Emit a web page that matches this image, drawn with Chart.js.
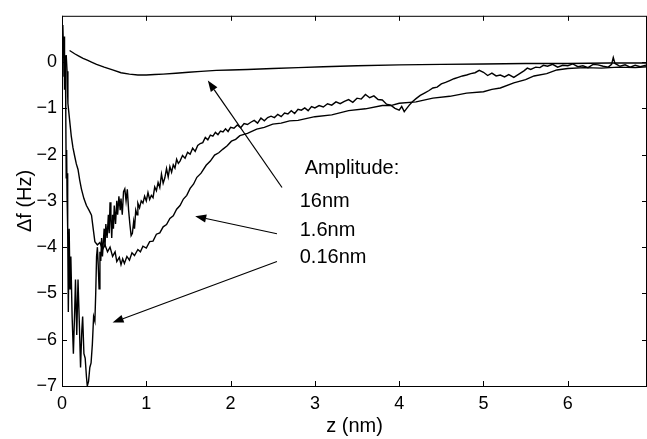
<!DOCTYPE html>
<html>
<head>
<meta charset="utf-8">
<script src="https://cdn.jsdelivr.net/npm/chart.js@4.4.0/dist/chart.umd.min.js"></script>
<style>
  body { margin: 0; background: #fff; }
  #wrap { width: 647px; height: 439px; }
</style>
</head>
<body>
<div id="wrap"><canvas id="chart" width="647" height="439"></canvas></div>
<script>
// tick labels
const xTicks = [0, 1, 2, 3, 4, 5, 6];
const yTicks = [-7, -6, -5, -4, -3, -2, -1, 0];

// 16nm amplitude
const z16nm = [0.09, 0.15, 0.2, 0.25, 0.3, 0.35, 0.41, 0.5, 0.6, 0.7, 0.8, 0.9, 1.0, 1.1, 1.2, 1.35, 1.5, 1.65, 1.83, 2.0,
  2.2, 2.5, 2.8, 3.1, 3.5, 4.0, 4.5, 5.0, 5.5, 6.0, 6.5, 6.94];
const df16nm = [0.25, 0.18, 0.13, 0.08, 0.04, 0.0, -0.05, -0.11, -0.17, -0.23, -0.26, -0.28, -0.28, -0.27, -0.26, -0.24, -0.22, -0.2, -0.18, -0.17,
  -0.16, -0.14, -0.12, -0.1, -0.08, -0.06, -0.05, -0.04, -0.03, -0.03, -0.02, -0.02];

// 1.6nm amplitude
const z1p6nm = [0.05, 0.06, 0.07, 0.09, 0.11, 0.13, 0.15, 0.17, 0.19, 0.21, 0.23, 0.26, 0.29, 0.32, 0.35, 0.37, 0.39, 0.42, 0.45, 0.48,
  0.51, 0.54, 0.57, 0.6, 0.63, 0.65, 0.68, 0.7, 0.72, 0.74, 0.77, 0.8, 0.83, 0.86, 0.9, 0.93, 0.96, 1.0, 1.04, 1.08,
  1.12, 1.16, 1.2, 1.24, 1.28, 1.32, 1.36, 1.4, 1.44, 1.48, 1.52, 1.56, 1.6, 1.65, 1.71, 1.76, 1.81, 1.86, 1.91, 1.96,
  2.01, 2.06, 2.11, 2.2, 2.31, 2.4, 2.5, 2.6, 2.7, 2.8, 3.0, 3.2, 3.4, 3.6, 3.8, 3.9, 4.0, 4.2, 4.4, 4.6,
  4.8, 5.0, 5.1, 5.2, 5.36, 5.5, 5.6, 5.75, 5.87, 6.0, 6.2, 6.4, 6.6, 6.8, 6.94];
const df1p6nm = [0.15, -0.2, -0.89, -1.25, -1.6, -1.85, -2.03, -2.2, -2.32, -2.55, -2.74, -2.95, -3.1, -3.2, -3.31, -3.6, -3.88, -3.95, -3.9, -4.05,
  -3.95, -4.1, -4.0, -4.2, -4.1, -4.31, -4.22, -4.38, -4.25, -4.35, -4.2, -4.28, -4.12, -4.18, -4.05, -4.1, -3.98, -4.02, -3.88, -3.87,
  -3.72, -3.69, -3.56, -3.51, -3.38, -3.32, -3.18, -3.1, -2.96, -2.88, -2.73, -2.64, -2.49, -2.4, -2.23, -2.14, -2.01, -1.96, -1.88, -1.81,
  -1.71, -1.67, -1.59, -1.54, -1.45, -1.41, -1.34, -1.32, -1.27, -1.26, -1.18, -1.14, -1.05, -1.01, -0.94, -0.94, -0.89, -0.86, -0.78, -0.74,
  -0.67, -0.64, -0.59, -0.56, -0.45, -0.38, -0.3, -0.25, -0.17, -0.14, -0.12, -0.13, -0.11, -0.12, -0.1];

// 0.16nm amplitude
const z0p16nm = [0.0, 0.01, 0.02, 0.025, 0.03, 0.04, 0.045, 0.05, 0.055, 0.06, 0.065, 0.07, 0.075, 0.085, 0.095, 0.105, 0.12, 0.135, 0.15, 0.16,
  0.175, 0.19, 0.205, 0.22, 0.235, 0.245, 0.26, 0.275, 0.29, 0.3, 0.315, 0.33, 0.345, 0.36, 0.375, 0.39, 0.4, 0.41, 0.42, 0.43,
  0.44, 0.45, 0.46, 0.47, 0.48, 0.49, 0.5, 0.51, 0.52, 0.535, 0.55, 0.56, 0.57, 0.58, 0.59, 0.6, 0.61, 0.62, 0.635, 0.65,
  0.66, 0.675, 0.69, 0.7, 0.715, 0.73, 0.745, 0.76, 0.775, 0.79, 0.805, 0.82, 0.835, 0.85, 0.86, 0.875, 0.89, 0.9, 0.92, 0.94,
  0.96, 0.98, 1.0, 1.02, 1.04, 1.06, 1.08, 1.1, 1.12, 1.14, 1.16, 1.18, 1.2, 1.22, 1.24, 1.26, 1.28, 1.3, 1.32, 1.34,
  1.36, 1.38, 1.4, 1.43, 1.46, 1.49, 1.52, 1.55, 1.58, 1.61, 1.64, 1.67, 1.7, 1.73, 1.76, 1.79, 1.82, 1.85, 1.88, 1.91,
  1.94, 1.97, 2.0, 2.04, 2.08, 2.12, 2.16, 2.2, 2.24, 2.28, 2.32, 2.36, 2.4, 2.44, 2.48, 2.52, 2.56, 2.6, 2.64, 2.68,
  2.72, 2.76, 2.8, 2.84, 2.88, 2.92, 2.96, 3.0, 3.05, 3.1, 3.15, 3.2, 3.25, 3.3, 3.35, 3.4, 3.45, 3.5, 3.55, 3.6,
  3.65, 3.7, 3.75, 3.8, 3.85, 3.9, 3.95, 4.0, 4.03, 4.06, 4.09, 4.12, 4.16, 4.2, 4.25, 4.3, 4.35, 4.4, 4.45, 4.5,
  4.55, 4.6, 4.65, 4.7, 4.75, 4.8, 4.85, 4.9, 4.95, 5.0, 5.05, 5.1, 5.15, 5.2, 5.25, 5.3, 5.36, 5.42, 5.48, 5.52,
  5.56, 5.62, 5.67, 5.71, 5.76, 5.82, 5.88, 5.94, 6.0, 6.06, 6.12, 6.18, 6.24, 6.3, 6.36, 6.42, 6.48, 6.52, 6.54, 6.56,
  6.62, 6.68, 6.74, 6.8, 6.86, 6.94];
const df0p16nm = [-0.3, 0.8, 0.1, 0.55, -0.6, 0.15, -1.2, -2.5, -1.9, -2.9, -2.4, -3.6, -5.4, -3.6, -4.9, -4.2, -5.5, -6.3, -5.4, -4.7,
  -5.9, -4.7, -5.6, -6.6, -5.8, -5.5, -6.3, -6.4, -6.8, -7.0, -6.9, -6.6, -6.5, -6.1, -5.5, -5.6, -5.0, -4.2, -4.0, -4.4,
  -4.9, -4.1, -4.3, -3.8, -4.2, -3.9, -3.6, -4.0, -3.5, -3.8, -3.3, -3.7, -3.03, -3.4, -3.8, -3.3, -3.6, -3.1, -3.5, -3.0,
  -3.3, -2.9, -3.2, -2.95, -3.3, -2.8, -2.74, -3.0, -2.75, -3.2, -3.5, -3.75, -3.7, -3.45, -3.6, -3.2, -3.3, -3.05, -3.15, -3.0,
  -3.05, -2.9, -3.0, -2.82, -2.97, -2.88, -2.93, -2.7, -2.78, -2.6, -2.71, -2.42, -2.62, -2.5, -2.3, -2.48, -2.26, -2.38, -2.22, -2.29,
  -2.1, -2.19, -2.14, -2.02, -2.08, -1.95, -1.99, -1.86, -1.93, -1.8, -1.76, -1.74, -1.63, -1.68, -1.58, -1.6, -1.52, -1.57, -1.49, -1.51,
  -1.44, -1.5, -1.41, -1.43, -1.36, -1.42, -1.33, -1.35, -1.3, -1.26, -1.32, -1.21, -1.27, -1.2, -1.17, -1.2, -1.13, -1.18, -1.1, -1.12,
  -1.05, -1.11, -1.02, -1.04, -0.99, -1.05, -0.96, -0.99, -0.94, -0.97, -0.9, -0.93, -0.86, -0.9, -0.85, -0.81, -0.87, -0.78, -0.8, -0.7,
  -0.77, -0.73, -0.81, -0.82, -0.91, -0.93, -1.0, -1.04, -0.96, -1.07, -1.0, -0.93, -0.85, -0.79, -0.72, -0.67, -0.62, -0.56, -0.54, -0.47,
  -0.44, -0.4, -0.36, -0.33, -0.3, -0.28, -0.25, -0.23, -0.18, -0.22, -0.29, -0.24, -0.3, -0.28, -0.32, -0.27, -0.33, -0.26, -0.19, -0.13,
  -0.16, -0.11, -0.12, -0.07, -0.09, -0.05, -0.11, -0.07, -0.08, -0.04, -0.1, -0.08, -0.12, -0.05, -0.06, -0.09, -0.11, -0.05, 0.1, -0.03,
  -0.09, -0.06, -0.11, -0.07, -0.1, -0.06];

// annotation labels and arrows (data coordinates)
const labelTexts = ['Amplitude:', '16nm', '1.6nm', '0.16nm'];
const labelZ = [2.88, 2.82, 2.82, 2.82];
const labelDf = [-2.29, -3.01, -3.65, -4.22];
const arrowFromZ = [2.61, 2.55, 2.55];
const arrowFromDf = [-2.71, -3.71, -4.31];
const arrowToZ = [1.73, 1.58, 0.6];
const arrowToDf = [-0.4, -3.33, -5.63];

const FONT = "'Liberation Sans', Arial, Helvetica, sans-serif";

function toPoints(xs, ys) {
  return xs.map((x, i) => ({ x: x, y: ys[i] }));
}

function lineSet(label, xs, ys) {
  return {
    label: label,
    data: toPoints(xs, ys),
    showLine: true,
    borderColor: '#000',
    borderWidth: 1.4,
    pointRadius: 0,
    tension: 0,
    fill: false
  };
}

// frame, inward ticks, arrows and labels
const decorations = {
  id: 'decorations',
  afterDatasetsDraw(chart) {
    const ctx = chart.ctx;
    const area = chart.chartArea;
    const xs = chart.scales.x;
    const ys = chart.scales.y;
    const tl = 5;

    ctx.save();
    ctx.strokeStyle = '#000';
    ctx.lineWidth = 1;
    ctx.strokeRect(area.left + 0.5, area.top + 0.5, area.right - area.left - 1, area.bottom - area.top);

    ctx.beginPath();
    xTicks.forEach(v => {
      const px = Math.round(xs.getPixelForValue(v)) + 0.5;
      ctx.moveTo(px, area.bottom);
      ctx.lineTo(px, area.bottom - tl);
      ctx.moveTo(px, area.top);
      ctx.lineTo(px, area.top + tl);
    });
    yTicks.forEach(v => {
      const py = Math.round(ys.getPixelForValue(v)) + 0.5;
      ctx.moveTo(area.left, py);
      ctx.lineTo(area.left + tl, py);
      ctx.moveTo(area.right, py);
      ctx.lineTo(area.right - tl, py);
    });
    ctx.stroke();

    // arrows
    ctx.lineWidth = 1.2;
    ctx.fillStyle = '#000';
    for (let i = 0; i < arrowFromZ.length; i++) {
      const x1 = xs.getPixelForValue(arrowFromZ[i]);
      const y1 = ys.getPixelForValue(arrowFromDf[i]);
      const x2 = xs.getPixelForValue(arrowToZ[i]);
      const y2 = ys.getPixelForValue(arrowToDf[i]);
      const ang = Math.atan2(y2 - y1, x2 - x1);
      const hl = 11, hw = 4;
      const bx = x2 - hl * Math.cos(ang);
      const by = y2 - hl * Math.sin(ang);
      ctx.beginPath();
      ctx.moveTo(x1, y1);
      ctx.lineTo(bx, by);
      ctx.stroke();
      ctx.beginPath();
      ctx.moveTo(x2, y2);
      ctx.lineTo(bx + hw * Math.sin(ang), by - hw * Math.cos(ang));
      ctx.lineTo(bx - hw * Math.sin(ang), by + hw * Math.cos(ang));
      ctx.closePath();
      ctx.fill();
    }

    // labels
    ctx.font = '20px ' + FONT;
    ctx.textAlign = 'left';
    ctx.textBaseline = 'middle';
    labelTexts.forEach((t, i) => {
      ctx.fillText(t, xs.getPixelForValue(labelZ[i]), ys.getPixelForValue(labelDf[i]));
    });
    ctx.restore();
  }
};

window.onload = () => {
  const ctx = document.getElementById('chart').getContext('2d');
  new Chart(ctx, {
    type: 'scatter',
    data: {
      datasets: [
        lineSet('16nm', z16nm, df16nm),
        lineSet('1.6nm', z1p6nm, df1p6nm),
        lineSet('0.16nm', z0p16nm, df0p16nm)
      ]
    },
    options: {
      responsive: false,
      animation: false,
      devicePixelRatio: 1,
      layout: { padding: { top: 12, right: 0, left: 0, bottom: 0 } },
      plugins: {
        legend: { display: false },
        tooltip: { enabled: false }
      },
      scales: {
        x: {
          type: 'linear',
          min: 0,
          max: 6.94,
          grid: { display: false, drawTicks: false },
          border: { display: false },
          afterBuildTicks: s => { s.ticks = xTicks.map(v => ({ value: v })); },
          afterFit: s => { s.height = 53; },
          ticks: {
            color: '#000',
            font: { family: FONT, size: 18 },
            padding: 7,
            maxRotation: 0,
            callback: v => String(v)
          },
          title: {
            display: true,
            text: 'z (nm)',
            color: '#000',
            font: { family: FONT, size: 20 },
            padding: { top: 0, bottom: 1 }
          }
        },
        y: {
          min: -7,
          max: 1,
          grid: { display: false, drawTicks: false },
          border: { display: false },
          afterBuildTicks: s => { s.ticks = yTicks.map(v => ({ value: v })); },
          afterFit: s => { s.width = 62; },
          ticks: {
            color: '#000',
            font: { family: FONT, size: 18 },
            padding: 5,
            callback: v => (v < 0 ? '\u2212' + Math.abs(v) : String(v))
          },
          title: {
            display: true,
            text: '\u0394f (Hz)',
            color: '#000',
            font: { family: FONT, size: 20 },
            padding: { top: 13, bottom: 0 }
          }
        }
      }
    },
    plugins: [decorations]
  });
};
</script>
</body>
</html>
